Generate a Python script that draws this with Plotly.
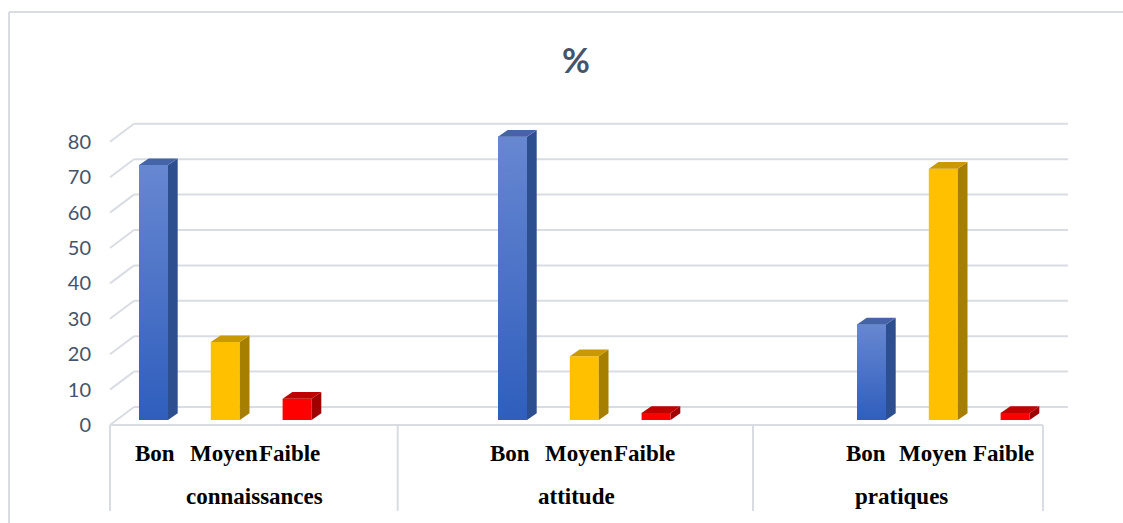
import plotly.graph_objects as go

# ---------------- data ----------------
categories = ["connaissances", "attitude", "pratiques"]
levels = ["Bon", "Moyen", "Faible"]
connaissances = [72, 22, 6]
attitude = [80, 18, 2]
pratiques = [27, 71, 2]
y_ticks = [0, 10, 20, 30, 40, 50, 60, 70, 80]
title_text = "%"

values = [connaissances, attitude, pratiques]

# ---------------- geometry / style ----------------
W, H = 1123, 523
S = 3.54          # pixels per value unit
BASE = 420        # pixel row of value 0 on the bars' front plane
def vy(p):        # pixel row -> value units (bar plane)
    return (BASE - p) / S

X0, SLOT, GROUP = 153.5, 71.8, 5   # bar centre, slot width, slots per category
BW, DX, DY = 29, 9.7, 6.7          # bar width, depth offsets (px)
dyv = DY / S
FRONT_OFF, BACK_OFF = -5 / S, 13 / S   # wall front / back planes (value units)
WALL_L_FRONT, WALL_L_BACK, WALL_R = 110, 134, 1068
TABLE_X = [110, 397.7, 753, 1043]
TABLE_BOTTOM = 511

front_col = ["#4A72C6", "#FFC000", "#FF0000"]
grad_col = [["#2F5EBD", "#6787D1"], None, None]
top_col = ["#4564A8", "#C99A00", "#C00000"]
side_col = ["#2E4F8F", "#A67E00", "#A00000"]
grid_col = "#D9DDE3"
txt_col = "#44546A"

fig = go.Figure()
shapes = []

def seg(x0, y0, x1, y1, xref="x", yref="y"):
    shapes.append(dict(type="line", xref=xref, yref=yref, x0=x0, y0=y0, x1=x1, y1=y1,
                       layer="below", line=dict(color=grid_col, width=2)))

# wall gridlines (left wall diagonal + back wall)
for t in y_ticks:
    seg(WALL_L_FRONT, t + FRONT_OFF, WALL_L_BACK, t + BACK_OFF)
    seg(WALL_L_BACK, t + BACK_OFF, WALL_R, t + BACK_OFF)

# table under the floor
seg(TABLE_X[0], FRONT_OFF, TABLE_X[-1], FRONT_OFF)
for xv in TABLE_X:
    seg(xv, FRONT_OFF, xv, vy(TABLE_BOTTOM))

# chart border
seg(9 / W, 1 - 12 / H, 1, 1 - 12 / H, "paper", "paper")
seg(9 / W, 0, 9 / W, 1 - 12 / H, "paper", "paper")

# bars: front faces
for j, lev in enumerate(levels):
    xs = [X0 + SLOT * (GROUP * i + j) for i in range(len(categories))]
    ys = [values[i][j] for i in range(len(categories))]
    fig.add_trace(go.Bar(x=xs, y=ys, width=BW, name=lev,
                         marker=dict(color=front_col[j], line=dict(width=0)),
                         showlegend=False))

# 3-D faces (side, top) and gradients computed from the values
for i in range(len(categories)):
    for j in range(len(levels)):
        v = values[i][j]
        xc = X0 + SLOT * (GROUP * i + j)
        xl, xr = xc - BW / 2, xc + BW / 2
        if grad_col[j]:
            fig.add_trace(go.Scatter(
                x=[xl, xr, xr, xl, xl], y=[0, 0, v, v, 0], mode="lines",
                line=dict(width=0), fill="toself",
                fillgradient=dict(type="vertical", start=0, stop=v,
                                  colorscale=[[0, grad_col[j][0]], [1, grad_col[j][1]]]),
                hoverinfo="skip", showlegend=False))
        fig.add_trace(go.Scatter(
            x=[xr, xr + DX, xr + DX, xr, xr], y=[0, dyv, v + dyv, v, 0],
            mode="lines", line=dict(width=0), fill="toself", fillcolor=side_col[j],
            hoverinfo="skip", showlegend=False))
        fig.add_trace(go.Scatter(
            x=[xl, xr, xr + DX, xl + DX, xl], y=[v, v, v + dyv, v + dyv, v],
            mode="lines", line=dict(width=0), fill="toself", fillcolor=top_col[j],
            hoverinfo="skip", showlegend=False))

# category labels (table text)
word_x = [[133, 188, 257], [488, 543, 612], [844, 897, 971]]
cat_x = [184, 536, 853]
LINE1, LINE2 = 453, 496
serif = dict(family="Liberation Serif, Times New Roman, serif", size=23, color="#000000",
             weight="bold")
ann = []
for i, cat in enumerate(categories):
    for j, lev in enumerate(levels):
        ann.append(dict(x=word_x[i][j], y=1 - LINE1 / H, xref="x", yref="paper",
                        text=lev, showarrow=False, xanchor="left", yanchor="middle",
                        font=serif))
    ann.append(dict(x=cat_x[i], y=1 - LINE2 / H, xref="x", yref="paper",
                    text=cat, showarrow=False, xanchor="left", yanchor="middle",
                    font=serif))
ann.append(dict(x=575.7 / W, y=1 - 59 / H, xref="paper", yref="paper",
                text=title_text, showarrow=False, xanchor="center", yanchor="middle",
                font=dict(family="Lato, sans-serif", size=34, color=txt_col, weight="bold")))

fig.update_layout(
    width=W, height=H,
    margin=dict(l=0, r=0, t=0, b=0),
    paper_bgcolor="white", plot_bgcolor="white",
    barmode="overlay",
    xaxis=dict(range=[0, W], visible=False),
    yaxis=dict(range=[vy(H), vy(0)], visible=False),
    yaxis2=dict(range=[(425 - H) / S, 425 / S], overlaying="y", anchor="free",
                position=91 / W, side="left", tickvals=y_ticks, ticks="",
                showgrid=False, showline=False, zeroline=False,
                tickfont=dict(family="Lato, sans-serif", size=20, color=txt_col)),
    annotations=ann,
    shapes=shapes,
)

# dummy trace on yaxis2 so its ticks render
fig.add_trace(go.Scatter(x=[None], y=[None], yaxis="y2", showlegend=False, hoverinfo="skip"))

fig.write_html("out.html")
